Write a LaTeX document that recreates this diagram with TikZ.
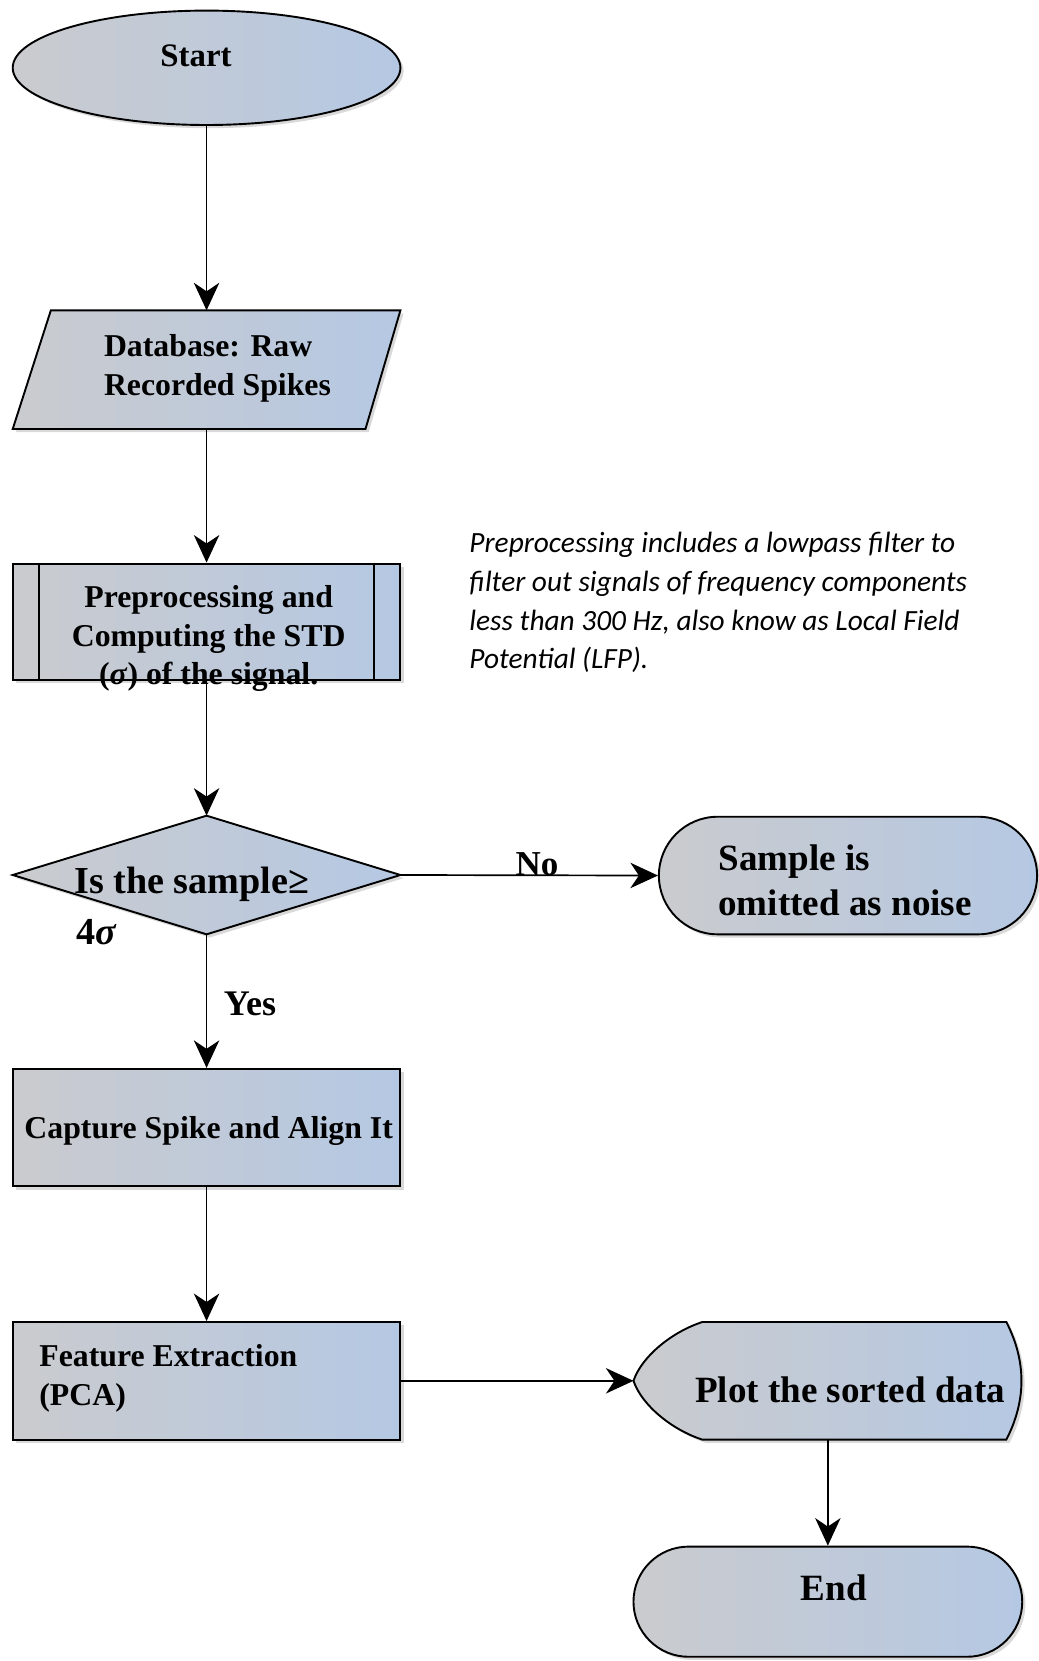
\documentclass[tikz,border=0pt]{standalone}
\usepackage{fontspec}
\setmainfont{Liberation Serif}
\newfontfamily\notefont{Carlito}
\usetikzlibrary{arrows.meta,shadows,shapes.geometric}
\definecolor{cgray}{RGB}{202,203,206}
\definecolor{cblue}{RGB}{181,200,227}
\begin{document}
\begin{tikzpicture}[x=1pt,y=-1pt,
  shp/.style={draw=black, line width=1.8pt, left color=cgray, right color=cblue,
    drop shadow={opacity=0.3, shadow xshift=3pt, shadow yshift=-3pt}},
  holder/.style={inner sep=0pt, outer sep=0pt},
  arr/.style={draw=black, line width=1.6pt, -{Stealth[length=26pt,width=24pt,inset=8pt]}},
  lbl/.style={font=\fontsize{30}{36.5}\selectfont\bfseries, inner sep=0pt},
  big/.style={font=\fontsize{35}{43}\selectfont\bfseries, inner sep=0pt},
  dtext/.style={font=\fontsize{36}{40}\selectfont\bfseries, inner sep=0pt, anchor=west},
  note/.style={font=\fontsize{27.7}{36.5}\notefont\itshape, inner sep=0pt, align=left, anchor=west}
]
\useasboundingbox (0,0) rectangle (980,1568);

% Start
\node[shp, ellipse, inner sep=0pt, minimum width=366pt, minimum height=108pt] (start) at (195,64) {};
\node[lbl, font=\fontsize{31}{36}\selectfont\bfseries] (tstart) at (185,53) {Start};

% Database parallelogram
\node[holder, minimum width=366pt, minimum height=112pt] (db) at (195,349) {};
\path[shp] (48,293) -- (378,293) -- (345,405) -- (12,405) -- cycle;
\node[lbl, align=left, anchor=west] (tdb) at (98,348) {Database: Raw\\Recorded Spikes};

% Preprocessing (predefined process)
\node[shp, rectangle, inner sep=0pt, minimum width=366pt, minimum height=110pt] (pre) at (195,587) {};
\draw[line width=1.8pt] ([xshift=26pt]pre.north west) -- ([xshift=26pt]pre.south west);
\draw[line width=1.8pt] ([xshift=-26pt]pre.north east) -- ([xshift=-26pt]pre.south east);

% Note
\node[note] (tnote) at (443,569) {Preprocessing includes a lowpass filter to\\filter out signals of frequency components\\less than 300 Hz, also know as Local Field\\Potential (LFP).};

% Decision
\node[holder, minimum width=366pt, minimum height=112pt] (dec) at (195,826) {};
\path[shp] (dec.west) -- (dec.north) -- (dec.east) -- (dec.south) -- cycle;

% Sample omitted terminal
\node[shp, rectangle, rounded corners=55.5pt, inner sep=0pt, minimum width=357pt, minimum height=111pt] (omit) at (800.5,826.5) {};
\node[big, align=left, anchor=west] (tomit) at (678,831) {Sample is\\omitted as noise};

% Capture
\node[shp, rectangle, inner sep=0pt, minimum width=366pt, minimum height=111pt] (cap) at (195,1064.5) {};
\node[lbl] (tcap) at (197,1068) {Capture Spike and Align It};

% Feature extraction
\node[shp, rectangle, inner sep=0pt, minimum width=366pt, minimum height=111pt] (feat) at (195,1303.5) {};
\node[lbl, align=left, anchor=west] (tfeat) at (37,1301) {Feature Extraction\\(PCA)};

% Plot (display shape)
\node[holder, minimum width=367pt, minimum height=111pt] (plot) at (781.5,1303.5) {};
\path[shp] (598,1303.5) .. controls (606,1280) and (635,1257) .. (663,1248) -- (950,1248)
  .. controls (969,1285) and (969,1322) .. (950,1359) -- (663,1359)
  .. controls (635,1350) and (606,1327) .. (598,1303.5) -- cycle;
\node[big, anchor=west] (tplot) at (656,1312) {Plot the sorted data};

% End
\node[shp, rectangle, rounded corners=52pt, inner sep=0pt, minimum width=367pt, minimum height=104pt] (end) at (781.5,1512) {};
\node[big] (tend) at (787,1499) {End};

% Arrows
\draw[arr] (start.south) -- (db.north);
\draw[arr] (db.south) -- (pre.north);
\draw[arr] (pre.south) -- (dec.north);
\draw[arr] (dec.east) -- (omit.west);
\draw[arr] (dec.south) -- (cap.north);
\draw[arr] (cap.south) -- (feat.north);
\draw[arr] (feat.east) -- (plot.west);
\draw[arr] (plot.south) -- (plot.south |- end.north);

% Texts on top
\node[lbl, align=center] (tpre) at (197,603) {Preprocessing and\\Computing the STD\\(\textit{σ}) of the signal.};
\node[dtext] (tdec1) at (70,835) {Is the sample≥};
\node[dtext] (tdec2) at (72,880) {4\textit{σ}};
\node[lbl, font=\fontsize{33}{36}\selectfont\bfseries] (tno) at (507,816) {No};
\node[lbl, font=\fontsize{34}{36}\selectfont\bfseries] (tyes) at (236,948) {Yes};
\end{tikzpicture}
\end{document}
